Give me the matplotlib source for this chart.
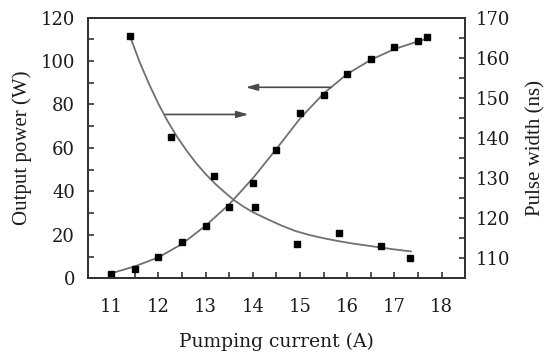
import numpy as np
import matplotlib
matplotlib.use('Agg')
import matplotlib.pyplot as plt
from matplotlib.ticker import MultipleLocator

# measured points
current_p = [11.0, 11.5, 12.0, 12.5, 13.0, 13.5, 14.0, 14.5, 15.0, 15.5, 16.0, 16.5, 17.0, 17.5, 17.7]
power = [2.0, 4.2, 10.0, 16.9, 24.1, 32.8, 43.9, 59.2, 76.2, 84.2, 94.2, 101.1, 106.5, 109.4, 110.9]

current_w = [11.4, 12.27, 13.17, 14.04, 14.94, 15.82, 16.72, 17.34]
width = [165.3, 140.3, 130.4, 122.8, 113.6, 116.4, 113.1, 110.0]

# fitted curves
fit_x_p = [11.05, 11.5, 12.0, 12.5, 13.0, 13.5, 14.0, 14.5, 15.0, 15.5, 16.0, 16.5, 17.0, 17.5, 17.7]
fit_p = [2.6, 5.5, 9.6, 15.8, 24.2, 34.0, 46.0, 59.5, 73.5, 85.0, 94.0, 100.5, 105.5, 109.0, 110.3]

fit_x_w = [11.4, 11.6, 11.8, 12.0, 12.2, 12.4, 12.6, 12.8, 13.0, 13.2, 13.4, 13.6, 13.8,
           14.0, 14.3, 14.6, 14.9, 15.2, 15.5, 15.8, 16.1, 16.4, 16.7, 17.0, 17.35]
fit_w = [165.3, 159.0, 153.5, 148.5, 144.1, 140.2, 136.8, 133.7, 131.0, 128.6, 126.5, 124.5, 122.9,
         121.5, 119.8, 118.2, 116.8, 115.8, 115.0, 114.3, 113.7, 113.2, 112.7, 112.2, 111.7]

LINE = '#707070'
INK = '#1c1c1c'
SERIF = 'DejaVu Serif'

fig = plt.figure(figsize=(5.44, 3.58), dpi=100)
ax = fig.add_axes([0.161, 0.2226, 0.694, 0.7284])
ax2 = ax.twinx()

ax.plot(fit_x_p, fit_p, color=LINE, lw=1.3, zorder=2)
ax.plot(current_p, power, 's', color='black', ms=4.2, zorder=3)
ax2.plot(fit_x_w, fit_w, color=LINE, lw=1.3, zorder=2)
ax2.plot(current_w, width, 's', color='black', ms=5.0, zorder=3)

# arrows pointing to the axis each curve belongs to
arrow = dict(arrowstyle='-|>,head_length=0.7,head_width=0.2', color='#4a4a4a', lw=1.2,
             shrinkA=0, shrinkB=0)
ax.annotate('', xy=(13.91, 75.4), xytext=(12.12, 75.4), arrowprops=arrow)
ax.annotate('', xy=(13.85, 87.9), xytext=(15.66, 87.9), arrowprops=arrow)

ax.set_xlim(10.5, 18.5)
ax.set_ylim(0, 120)
ax2.set_ylim(105, 170)

ax.xaxis.set_major_locator(MultipleLocator(1))
ax.xaxis.set_minor_locator(MultipleLocator(0.5))
ax.yaxis.set_major_locator(MultipleLocator(20))
ax.yaxis.set_minor_locator(MultipleLocator(10))
ax2.yaxis.set_major_locator(MultipleLocator(10))
ax2.yaxis.set_minor_locator(MultipleLocator(5))

for a in (ax, ax2):
    for s in a.spines.values():
        s.set_linewidth(1.4)
        s.set_color('#333333')
    a.tick_params(which='both', direction='in', length=4, width=1.2, color='#333333',
                  labelsize=13, labelcolor=INK)
    for lab in a.get_xticklabels() + a.get_yticklabels():
        lab.set_family(SERIF)
ax.tick_params(axis='x', which='both', pad=14, top=False)
ax.tick_params(axis='y', which='both', pad=9, right=False)
ax2.tick_params(axis='y', which='both', pad=8)

ax.set_xlabel('Pumping current (A)', family=SERIF, fontsize=13.5, color=INK, labelpad=12)
ax.set_ylabel('Output power (W)', family='Liberation Serif', fontsize=15, color=INK, labelpad=6)
ax2.set_ylabel('Pulse width (ns)', family='Liberation Serif', fontsize=15, color=INK, labelpad=11)

fig.savefig('out.png', dpi=100)
